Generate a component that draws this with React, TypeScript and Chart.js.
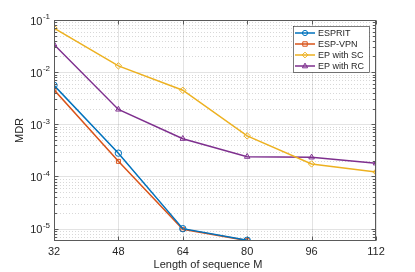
import React, { useEffect, useRef } from 'react';
import { Chart, registerables } from 'chart.js';
Chart.register(...registerables);

const lengths = [32, 48, 64, 80, 96, 112];
const xTickValues = [32, 48, 64, 80, 96, 112];
const yDecades = [-5, -4, -3, -2, -1];
const esprit = [5.6e-3, 2.8e-4, 1.0e-5, 6.0e-6];
const espVpn = [4.6e-3, 1.95e-4, 9.7e-6, 5.9e-6];
const epSC = [7.0e-2, 1.32e-2, 4.5e-3, 6.0e-4, 1.74e-4, 1.22e-4];
const epRC = [3.4e-2, 1.93e-3, 5.3e-4, 2.4e-4, 2.33e-4, 1.79e-4];
const seriesNames = ['ESPRIT', 'ESP-VPN', 'EP with SC', 'EP with RC'];
const seriesColors = ['#0072BD', '#D95319', '#EDB120', '#7E2F8E'];
const seriesMarkers = ['circle', 'rect', 'rectRot', 'triangle'];
const seriesValues = [esprit, espVpn, epSC, epRC];

const Y_MIN = 5.8e-6;
const Y_MAX = 0.1;
const TEXT = '#262626';
const FONT = 'Liberation Sans, Arial, Helvetica, sans-serif';

function drawMarker(ctx: CanvasRenderingContext2D, style: string, x: number, y: number, r: number) {
  ctx.beginPath();
  if (style === 'circle') {
    ctx.arc(x, y, r, 0, Math.PI * 2);
  } else if (style === 'rect') {
    ctx.rect(x - r * 0.85, y - r * 0.85, r * 1.7, r * 1.7);
  } else if (style === 'rectRot') {
    ctx.moveTo(x, y - r * 1.1);
    ctx.lineTo(x + r * 1.1, y);
    ctx.lineTo(x, y + r * 1.1);
    ctx.lineTo(x - r * 1.1, y);
    ctx.closePath();
  } else {
    ctx.moveTo(x, y - r * 1.1);
    ctx.lineTo(x + r, y + r * 0.7);
    ctx.lineTo(x - r, y + r * 0.7);
    ctx.closePath();
  }
  ctx.stroke();
}

const matlabPlugin = {
  id: 'matlabAxes',
  beforeDatasetsDraw(chart: any) {
    const { ctx, chartArea: a, scales } = chart;
    const xs = scales.x, ys = scales.y;
    ctx.save();
    ctx.lineWidth = 1;
    // minor y grid (dotted)
    ctx.strokeStyle = 'rgba(38,38,38,0.18)';
    ctx.setLineDash([1, 2]);
    for (const e of [-6, ...yDecades]) {
      for (let m = 2; m <= 9; m++) {
        const v = m * Math.pow(10, e);
        if (v <= Y_MIN || v >= Y_MAX) continue;
        const py = Math.round(ys.getPixelForValue(v)) + 0.5;
        ctx.beginPath();
        ctx.moveTo(a.left, py);
        ctx.lineTo(a.right, py);
        ctx.stroke();
      }
    }
    ctx.setLineDash([]);
    ctx.strokeStyle = 'rgba(38,38,38,0.13)';
    for (const e of yDecades) {
      const py = Math.round(ys.getPixelForValue(Math.pow(10, e))) + 0.5;
      ctx.beginPath();
      ctx.moveTo(a.left, py);
      ctx.lineTo(a.right, py);
      ctx.stroke();
    }
    for (const t of xTickValues) {
      const px = Math.round(xs.getPixelForValue(t)) + 0.5;
      ctx.beginPath();
      ctx.moveTo(px, a.top);
      ctx.lineTo(px, a.bottom);
      ctx.stroke();
    }
    ctx.restore();
  },
  afterDatasetsDraw(chart: any) {
    const { ctx, chartArea: a, scales } = chart;
    const xs = scales.x, ys = scales.y;
    ctx.save();
    // box
    ctx.strokeStyle = '#5a5a5a';
    ctx.lineWidth = 1;
    const L = Math.round(a.left) + 0.5, R = Math.round(a.right) - 0.5;
    const T = Math.round(a.top) + 0.5, B = Math.round(a.bottom) - 0.5;
    ctx.strokeRect(L, T, R - L, B - T);
    // x ticks
    ctx.beginPath();
    for (const t of xTickValues) {
      const px = Math.round(xs.getPixelForValue(t)) + 0.5;
      ctx.moveTo(px, B); ctx.lineTo(px, B - 4);
      ctx.moveTo(px, T); ctx.lineTo(px, T + 4);
    }
    // y ticks
    for (const e of [-6, ...yDecades]) {
      for (let m = 1; m <= 9; m++) {
        const v = m * Math.pow(10, e);
        if (v < Y_MIN || v > Y_MAX) continue;
        const py = Math.round(ys.getPixelForValue(v)) + 0.5;
        const len = m === 1 ? 4 : 2.5;
        ctx.moveTo(L, py); ctx.lineTo(L + len, py);
        ctx.moveTo(R, py); ctx.lineTo(R - len, py);
      }
    }
    ctx.stroke();

    // tick labels
    ctx.fillStyle = TEXT;
    ctx.font = `11px ${FONT}`;
    ctx.textAlign = 'center';
    ctx.textBaseline = 'middle';
    for (const t of xTickValues) {
      ctx.fillText(String(t), xs.getPixelForValue(t), 252);
    }
    for (const e of yDecades) {
      const py = ys.getPixelForValue(Math.pow(10, e));
      const exp = String(e);
      ctx.font = `8px ${FONT}`;
      const ew = ctx.measureText(exp).width;
      ctx.textAlign = 'left';
      ctx.fillText(exp, 50 - ew, py - 3);
      ctx.font = `11px ${FONT}`;
      ctx.textAlign = 'right';
      ctx.fillText('10', 50 - ew - 0.5, py + 1.5);
    }
    // axis titles
    ctx.font = `11px ${FONT}`;
    ctx.textAlign = 'center';
    ctx.fillText('Length of sequence M', 208, 264.5);
    ctx.save();
    ctx.translate(20, 130.5);
    ctx.rotate(-Math.PI / 2);
    ctx.fillText('MDR', 0, 0);
    ctx.restore();

    // legend
    const lx = 293, ly = 26, lw = 76, lh = 46;
    ctx.fillStyle = '#ffffff';
    ctx.fillRect(lx, ly, lw, lh);
    ctx.strokeStyle = '#262626';
    ctx.lineWidth = 0.6;
    ctx.strokeRect(lx + 0.5, ly + 0.5, lw, lh);
    ctx.font = `9px ${FONT}`;
    ctx.textAlign = 'left';
    ctx.textBaseline = 'middle';
    chart.data.datasets.forEach((ds: any, i: number) => {
      const yy = ly + 7 + i * 11;
      ctx.strokeStyle = ds.borderColor;
      ctx.lineWidth = 1.5;
      ctx.beginPath();
      ctx.moveTo(295, yy); ctx.lineTo(315, yy);
      ctx.stroke();
      ctx.lineWidth = 1;
      drawMarker(ctx, ds.pointStyle, 305, yy, 2.6);
      ctx.fillStyle = TEXT;
      ctx.fillText(ds.label, 318, yy + 0.5);
    });
    ctx.restore();
  },
};

export default function App() {
  const ref = useRef<HTMLCanvasElement>(null);
  useEffect(() => {
    if (!ref.current) return;
    const datasets = seriesNames.map((name, i) => ({
      label: name,
      data: seriesValues[i].map((v, j) => ({ x: lengths[j], y: v })),
      borderColor: seriesColors[i],
      backgroundColor: 'rgba(255,255,255,0)',
      pointBorderColor: seriesColors[i],
      pointBackgroundColor: 'rgba(255,255,255,0)',
      pointStyle: seriesMarkers[i],
      pointRadius: seriesMarkers[i] === 'rect' ? 2.8 : 3.2,
      pointBorderWidth: 1,
      borderWidth: 1.5,
      tension: 0,
      fill: false,
    }));
    const chart = new Chart(ref.current, {
      type: 'line',
      data: { datasets },
      options: {
        animation: false,
        responsive: false,
        devicePixelRatio: 1,
        layout: { padding: { top: 20, right: 39, left: 0, bottom: 0 } },
        plugins: { legend: { display: false }, tooltip: { enabled: false } },
        scales: {
          x: {
            type: 'linear', min: 32, max: 112,
            ticks: { display: false }, grid: { display: false }, border: { display: false },
            afterFit: (s: any) => { s.height = 31; },
          },
          y: {
            type: 'logarithmic', min: Y_MIN, max: Y_MAX,
            ticks: { display: false }, grid: { display: false }, border: { display: false },
            afterFit: (s: any) => { s.width = 54; },
          },
        },
      } as any,
      plugins: [matlabPlugin],
    });
    return () => chart.destroy();
  }, []);
  return (
    <div style={{ position: 'absolute', left: 0, top: 0, width: 415, height: 272, background: '#fff' }}>
      <canvas ref={ref} width={415} height={272} style={{ width: 415, height: 272, display: 'block' }} />
    </div>
  );
}
